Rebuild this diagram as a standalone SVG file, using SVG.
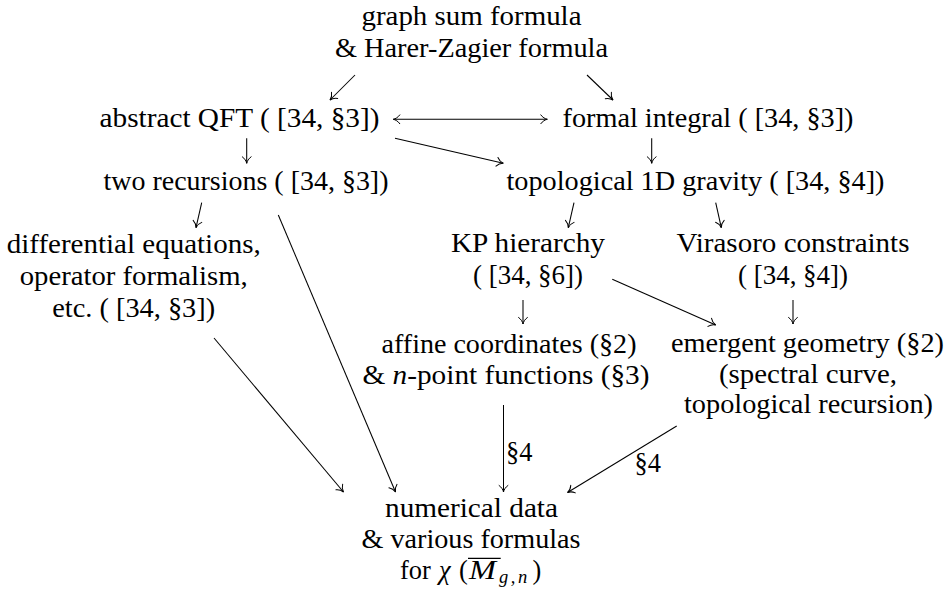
<svg xmlns="http://www.w3.org/2000/svg" width="948" height="590" viewBox="0 0 948 590">
<style>
.t{font-family:'Liberation Serif','DejaVu Serif',serif;font-size:26.4px;fill:#000;text-anchor:middle}
.s{text-anchor:start}
.i{font-style:italic}
.e{fill:none;stroke:#000;stroke-width:1.05}
.a{marker-end:url(#ah)}
</style>
<defs>
<marker id="ah" markerUnits="userSpaceOnUse" viewBox="-8 -6 10 12" refX="0" refY="0" markerWidth="10" markerHeight="12" orient="auto-start-reverse" overflow="visible">
<path d="M-6.5,-4.4 C-4.8,-1.9 -2,-0.4 0,0 C-2,0.4 -4.8,1.9 -6.5,4.4" fill="none" stroke="#000" stroke-width="1" stroke-linecap="round"/>
</marker>
</defs>
<rect width="948" height="590" fill="#fff"/>
<g id="edges">
<path class="e a" d="M355,75 L330,100"/>
<path class="e a" d="M587,75 L613,100"/>
<path class="e a" style="marker-start:url(#ah)" d="M393.3,119.3 H547.3"/>
<path class="e a" d="M246.7,138.3 V163.3"/>
<path class="e a" d="M395,138.3 L503.3,163.3"/>
<path class="e a" d="M651.7,138.3 V163.3"/>
<path class="e a" d="M201.7,202.7 L196,227.7"/>
<path class="e a" d="M278.3,215 L395.5,492"/>
<path class="e a" d="M574,202.7 L568.3,227.7"/>
<path class="e a" d="M715.7,202.7 L721.3,227.7"/>
<path class="e a" d="M523,300 V324"/>
<path class="e a" d="M612.3,279.3 L715.7,325"/>
<path class="e a" d="M793,300 V324"/>
<path class="e a" d="M214,338 L343.5,492"/>
<path class="e a" d="M503.5,405 V492"/>
<path class="e a" d="M676.7,426 L567.5,492.5"/>
<text class="t s" x="506" y="460.5">§4</text>
<text class="t s" x="634.5" y="471.5">§4</text>
</g>
<g id="n-top">
<text class="t" x="471.5" y="25" textLength="220" lengthAdjust="spacingAndGlyphs">graph sum formula</text>
<text class="t" x="471.5" y="56.7" textLength="273" lengthAdjust="spacingAndGlyphs">&amp; Harer-Zagier formula</text>
</g>
<g id="n-qft">
<text class="t" x="239.5" y="126.7" textLength="280" lengthAdjust="spacingAndGlyphs">abstract QFT ( [34, §3])</text>
</g>
<g id="n-formal">
<text class="t" x="708" y="126.7" textLength="291" lengthAdjust="spacingAndGlyphs">formal integral ( [34, §3])</text>
</g>
<g id="n-rec">
<text class="t" x="246" y="189.5" textLength="285" lengthAdjust="spacingAndGlyphs">two recursions ( [34, §3])</text>
</g>
<g id="n-grav">
<text class="t" x="695.5" y="189.5" textLength="378" lengthAdjust="spacingAndGlyphs">topological 1D gravity ( [34, §4])</text>
</g>
<g id="n-diff">
<text class="t" x="133.7" y="253.3" textLength="254" lengthAdjust="spacingAndGlyphs">differential equations,</text>
<text class="t" x="133.7" y="285" textLength="228" lengthAdjust="spacingAndGlyphs">operator formalism,</text>
<text class="t" x="133.7" y="316.7" textLength="163" lengthAdjust="spacingAndGlyphs">etc. ( [34, §3])</text>
</g>
<g id="n-kp">
<text class="t" x="528" y="252" textLength="154" lengthAdjust="spacingAndGlyphs">KP hierarchy</text>
<text class="t" x="528" y="284" textLength="110" lengthAdjust="spacingAndGlyphs">( [34, §6])</text>
</g>
<g id="n-vir">
<text class="t" x="793" y="252" textLength="233" lengthAdjust="spacingAndGlyphs">Virasoro constraints</text>
<text class="t" x="793" y="284" textLength="110" lengthAdjust="spacingAndGlyphs">( [34, §4])</text>
</g>
<g id="n-affine">
<text class="t" x="509" y="353" textLength="255" lengthAdjust="spacingAndGlyphs">affine coordinates (§2)</text>
<text class="t" x="506" y="384" textLength="287" lengthAdjust="spacingAndGlyphs">&amp; <tspan class="i">n</tspan>-point functions (§3)</text>
</g>
<g id="n-emergent">
<text class="t" x="807.5" y="352" textLength="273" lengthAdjust="spacingAndGlyphs">emergent geometry (§2)</text>
<text class="t" x="808" y="382.5" textLength="178" lengthAdjust="spacingAndGlyphs">(spectral curve,</text>
<text class="t" x="808.5" y="412.5" textLength="249" lengthAdjust="spacingAndGlyphs">topological recursion)</text>
</g>
<g id="n-num">
<text class="t" x="471.5" y="516.7" textLength="173" lengthAdjust="spacingAndGlyphs">numerical data</text>
<text class="t" x="471" y="548.3" textLength="219" lengthAdjust="spacingAndGlyphs">&amp; various formulas</text>
<text class="t s" y="578.5"><tspan x="400">for</tspan><tspan x="439" class="i">χ</tspan><tspan x="459">(</tspan><tspan x="469" class="i" textLength="27" lengthAdjust="spacingAndGlyphs">M</tspan><tspan x="499" y="583" class="i" style="font-size:18.5px;letter-spacing:2.5px">g,n</tspan><tspan x="532.5" y="578.5">)</tspan></text>
<line x1="468" y1="558.3" x2="500.7" y2="558.3" stroke="#000" stroke-width="1.3"/>
</g>
</svg>
